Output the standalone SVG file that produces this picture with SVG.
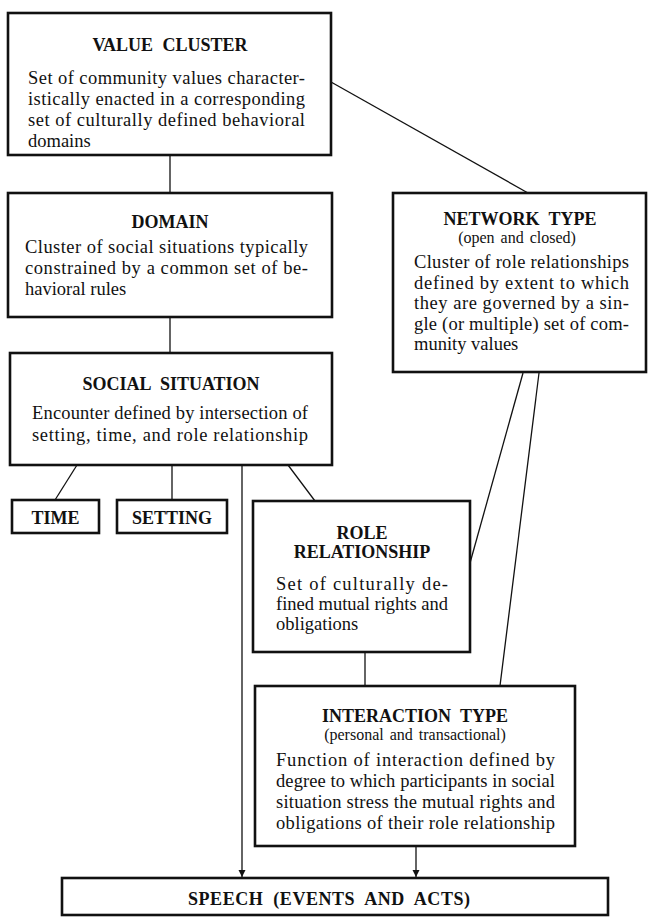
<svg xmlns="http://www.w3.org/2000/svg" width="648" height="919" viewBox="0 0 648 919">
  <style>
    .box { fill: #ffffff; stroke: #111111; stroke-width: 2.6; }
    .link { fill: none; stroke: #111111; stroke-width: 1.3; }
    .title { font-family: "Liberation Serif", "Times New Roman", serif; font-weight: bold; font-size: 18px; word-spacing: 5px; text-anchor: middle; fill: #111111; }
    .sub { font-family: "Liberation Serif", "Times New Roman", serif; font-size: 16px; word-spacing: 2px; text-anchor: middle; fill: #111111; }
    .body { font-family: "Liberation Serif", "Times New Roman", serif; font-size: 18.5px; fill: #111111; }
  </style>
  <defs>
    <marker id="arrow" viewBox="0 0 10 10" refX="10" refY="5" markerWidth="7" markerHeight="9" markerUnits="userSpaceOnUse" orient="auto">
      <path d="M0,0 L10,5 L0,10 Z" fill="#111111"/>
    </marker>
  </defs>
  <rect width="648" height="919" fill="#ffffff"/>

  <!-- connectors -->
  <g id="connectors">
    <line class="link" x1="170" y1="155" x2="170" y2="193"/>
    <line class="link" x1="331" y1="82" x2="528" y2="193"/>
    <line class="link" x1="170" y1="317" x2="170" y2="353"/>
    <line class="link" x1="77" y1="465" x2="55" y2="500"/>
    <line class="link" x1="172" y1="465" x2="172" y2="500"/>
    <line class="link" x1="242" y1="465" x2="242" y2="877" marker-end="url(#arrow)"/>
    <line class="link" x1="288" y1="465" x2="315" y2="501"/>
    <line class="link" x1="523" y1="373" x2="470" y2="563"/>
    <line class="link" x1="539" y1="373" x2="500" y2="686"/>
    <line class="link" x1="365" y1="652" x2="365" y2="686"/>
    <line class="link" x1="416" y1="846" x2="416" y2="877" marker-end="url(#arrow)"/>
  </g>

  <!-- value cluster -->
  <g id="value-cluster">
    <rect class="box" x="8" y="13" width="323" height="142"/>
    <text class="title" x="170" y="51">VALUE CLUSTER</text>
    <text class="body" x="28" y="84" textLength="277" lengthAdjust="spacing">Set of community values character-</text>
    <text class="body" x="28" y="105" textLength="277" lengthAdjust="spacing">istically enacted in a corresponding</text>
    <text class="body" x="28" y="126" textLength="277" lengthAdjust="spacing">set of culturally defined behavioral</text>
    <text class="body" x="28" y="147">domains</text>
  </g>

  <!-- domain -->
  <g id="domain">
    <rect class="box" x="8" y="193" width="324" height="124"/>
    <text class="title" x="170" y="228">DOMAIN</text>
    <text class="body" x="25" y="253" textLength="283" lengthAdjust="spacing">Cluster of social situations typically</text>
    <text class="body" x="25" y="274" textLength="283" lengthAdjust="spacing">constrained by a common set of be-</text>
    <text class="body" x="25" y="295">havioral rules</text>
  </g>

  <!-- network type -->
  <g id="network-type">
    <rect class="box" x="393" y="193" width="253" height="179"/>
    <text class="title" x="520" y="225">NETWORK TYPE</text>
    <text class="sub" x="517" y="243">(open and closed)</text>
    <text class="body" x="414" y="268" textLength="215" lengthAdjust="spacing">Cluster of role relationships</text>
    <text class="body" x="414" y="289" textLength="215" lengthAdjust="spacing">defined by extent to which</text>
    <text class="body" x="414" y="309" textLength="215" lengthAdjust="spacing">they are governed by a sin-</text>
    <text class="body" x="414" y="330" textLength="215" lengthAdjust="spacing">gle (or multiple) set of com-</text>
    <text class="body" x="414" y="350">munity values</text>
  </g>

  <!-- social situation -->
  <g id="social-situation">
    <rect class="box" x="10" y="353" width="322" height="112"/>
    <text class="title" x="171" y="390">SOCIAL SITUATION</text>
    <text class="body" x="32" y="419" textLength="276" lengthAdjust="spacing">Encounter defined by intersection of</text>
    <text class="body" x="32" y="441" textLength="276" lengthAdjust="spacing">setting, time, and role relationship</text>
  </g>

  <!-- time -->
  <g id="time">
    <rect class="box" x="12" y="500" width="87" height="33"/>
    <text class="title" x="55.5" y="524">TIME</text>
  </g>

  <!-- setting -->
  <g id="setting">
    <rect class="box" x="117" y="500" width="110" height="33"/>
    <text class="title" x="172" y="524">SETTING</text>
  </g>

  <!-- role relationship -->
  <g id="role-relationship">
    <rect class="box" x="253" y="501" width="217" height="151"/>
    <text class="title" x="362" y="539">ROLE</text>
    <text class="title" x="362" y="558">RELATIONSHIP</text>
    <text class="body" x="276" y="590" textLength="172" lengthAdjust="spacing">Set of culturally de-</text>
    <text class="body" x="276" y="610" textLength="172" lengthAdjust="spacing">fined mutual rights and</text>
    <text class="body" x="276" y="630">obligations</text>
  </g>

  <!-- interaction type -->
  <g id="interaction-type">
    <rect class="box" x="255" y="686" width="320" height="160"/>
    <text class="title" x="415" y="722">INTERACTION TYPE</text>
    <text class="sub" x="415" y="740">(personal and transactional)</text>
    <text class="body" x="276" y="766" textLength="279" lengthAdjust="spacing">Function of interaction defined by</text>
    <text class="body" x="276" y="787" textLength="279" lengthAdjust="spacing">degree to which participants in social</text>
    <text class="body" x="276" y="808" textLength="279" lengthAdjust="spacing">situation stress the mutual rights and</text>
    <text class="body" x="276" y="829" textLength="279" lengthAdjust="spacing">obligations of their role relationship</text>
  </g>

  <!-- speech -->
  <g id="speech">
    <rect class="box" x="62" y="878" width="546" height="37"/>
    <text class="title" x="329" y="905" textLength="282" lengthAdjust="spacing">SPEECH (EVENTS AND ACTS)</text>
  </g>
</svg>
